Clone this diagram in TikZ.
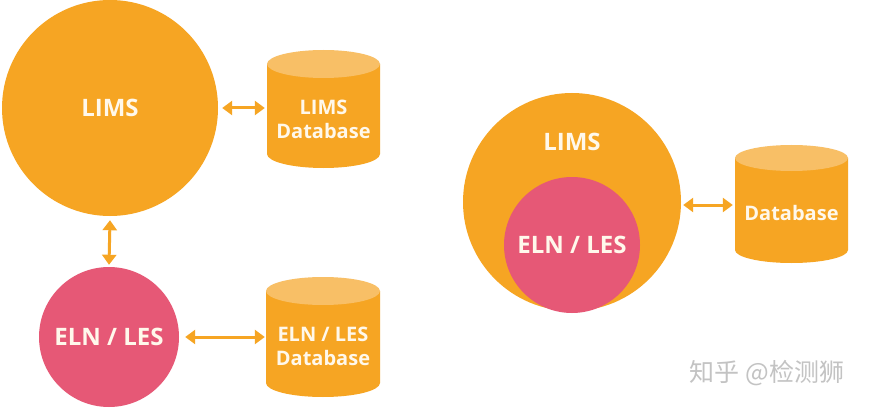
\documentclass[tikz,border=0pt]{standalone}
\usepackage{fontspec}
\setmainfont{Open Sans}
\newfontfamily\cjk{Noto Sans CJK SC}
\usetikzlibrary{arrows.meta}
\definecolor{limsorange}{RGB}{246,165,35}
\definecolor{dbtop}{RGB}{248,191,102}
\definecolor{elnpink}{RGB}{230,88,118}
\definecolor{txtwhite}{RGB}{255,248,235}
\definecolor{wmgray}{RGB}{195,195,195}
\tikzset{
  circlenode/.style={circle, inner sep=0pt, text=txtwhite, font=\fontsize{24}{28}\selectfont\bfseries},
  dbtext/.style={inner sep=0pt, text=txtwhite, align=center, font=\fontsize{20}{24}\selectfont\bfseries},
  conn/.style={draw=limsorange, line width=3pt, {Triangle[length=10pt,width=14pt]}-{Triangle[length=10pt,width=14pt]}},
}
% cylinder: cx, top ellipse centre y, bottom ellipse centre y, half width, ellipse ry (y measured downward)
\newcommand{\dbcylinder}[5]{%
  \fill[limsorange] ({#1-#4},{-(#2)}) -- ({#1-#4},{-(#3)})
     arc[start angle=180, end angle=360, x radius=#4, y radius=#5]
     -- ({#1+#4},{-(#2)}) -- cycle;
  \fill[dbtop] (#1,{-(#2)}) ellipse [x radius=#4, y radius=#5];
}
\begin{document}
\begin{tikzpicture}[x=1pt,y=1pt]
\useasboundingbox (0,0) rectangle (870,-409);
\fill[white] (0,0) rectangle (870,-409);

% ---------- left part ----------
\node[circlenode, fill=limsorange, minimum size=216pt] (lims) at (110,-108) {LIMS};
\node[circlenode, fill=elnpink, minimum size=140pt] (eln) at (109,-337) {ELN / LES};

\dbcylinder{323.5}{64}{154}{56.5}{14}
\node[dbtext, minimum width=113pt] (limsdb) at (323.5,-119.5) {LIMS\\Database};

\dbcylinder{323}{291}{383}{57}{14}
\node[dbtext, minimum width=114pt] (elndb) at (323,-346.5) {ELN / LES\\Database};

\draw[conn] ([xshift=4pt]lims.east) -- ([xshift=-2pt]lims.east -| limsdb.west);
\draw[conn] ([yshift=-4pt]lims.south) -- ([yshift=2pt]eln.north);
\draw[conn] ([xshift=6pt]eln.east) -- ([xshift=-1pt]eln.east -| elndb.west);

% ---------- right part ----------
\node[circle, fill=limsorange, minimum size=218pt, inner sep=0pt] (limsbig) at (572,-202) {};
\node[circlenode, anchor=center] (limslabel) at (572,-142) {LIMS};
\node[circlenode, fill=elnpink, minimum size=136pt] (elninner) at (572,-245) {ELN / LES};

\dbcylinder{791.5}{158}{250}{56.5}{13}
\node[dbtext, minimum width=113pt] (db) at (791.5,-213) {Database};

\draw[conn] ([xshift=2pt]limsbig.east |- 0,-205) -- ([xshift=-2pt]db.west |- 0,-205);

% ---------- watermark ----------
\node[inner sep=0pt, text=wmgray, font=\cjk\fontsize{25}{28}\selectfont] (wm) at (767,-373) {知乎 @检测狮};
\end{tikzpicture}
\end{document}
